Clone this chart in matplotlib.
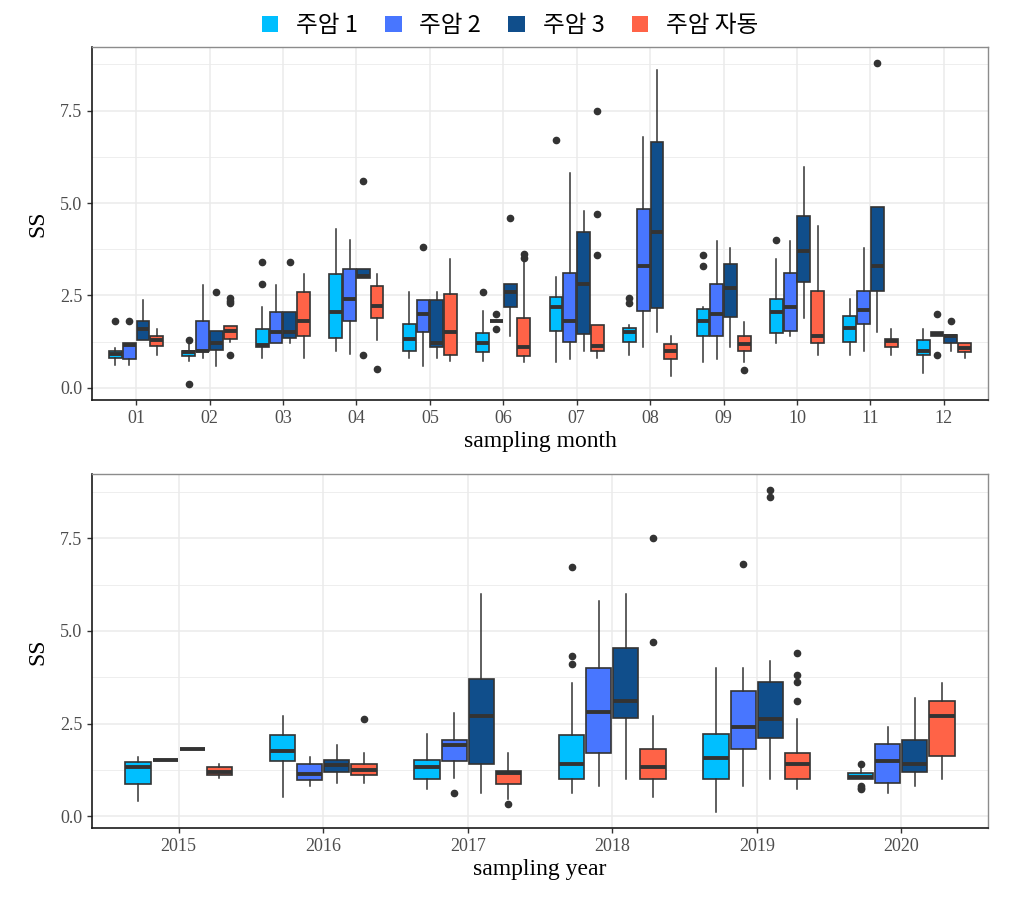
import numpy as np
import matplotlib
matplotlib.use('Agg')
import matplotlib.pyplot as plt
from matplotlib.patches import Patch

plt.rcParams['font.family'] = ['Liberation Serif', 'DejaVu Serif']

series_names = ['주암 1', '주암 2', '주암 3', '주암 자동']
series_colors = ['#00BFFF', '#4876FF', '#104E8B', '#FF6347']

months = ['01', '02', '03', '04', '05', '06', '07', '08', '09', '10', '11', '12']
years = ['2015', '2016', '2017', '2018', '2019', '2020']

# (whisker low, q1, median, q3, whisker high) per month
month_s1 = [(0.62, 0.82, 0.92, 1.01, 1.08), (0.72, 0.85, 0.96, 1.01, 1.20), (0.81, 1.10, 1.15, 1.60, 2.20),
            (1.01, 1.35, 2.05, 3.07, 4.29), (0.81, 1.01, 1.32, 1.74, 2.59), (0.72, 0.96, 1.21, 1.49, 2.09),
            (0.70, 1.55, 2.20, 2.45, 2.99), (0.90, 1.24, 1.51, 1.63, 1.69), (0.70, 1.39, 1.80, 2.13, 2.20),
            (1.21, 1.48, 2.05, 2.40, 3.49), (0.90, 1.24, 1.62, 1.95, 2.40), (0.40, 0.90, 1.01, 1.30, 1.59)]
month_s1_out = [[1.8], [1.3, 0.11], [3.4, 2.8], [], [], [2.6], [6.7], [2.43, 2.3], [3.6, 3.3], [4.0], [], []]

month_s2 = [(0.61, 0.79, 1.17, 1.20, 1.20), (0.81, 0.99, 1.01, 1.80, 2.79), (1.20, 1.20, 1.51, 2.04, 2.79),
            (0.92, 1.80, 2.40, 3.21, 3.99), (0.60, 1.50, 2.00, 2.39, 2.39), (1.80, 1.80, 1.80, 1.80, 1.80),
            (0.79, 1.24, 1.80, 3.10, 5.80), (1.11, 2.07, 3.30, 4.84, 6.79), (0.79, 1.39, 2.00, 2.81, 3.98),
            (1.41, 1.55, 2.20, 3.10, 3.98), (1.01, 1.73, 2.11, 2.61, 3.78), (1.39, 1.39, 1.46, 1.50, 1.50)]
month_s2_out = [[1.8], [], [], [], [3.8], [2.0, 1.6], [], [], [], [], [], [2.0, 0.9]]

month_s3 = [(1.30, 1.30, 1.60, 1.80, 2.38), (0.60, 1.03, 1.20, 1.55, 1.55), (1.21, 1.35, 1.51, 2.04, 2.04),
            (2.98, 2.98, 3.03, 3.21, 3.21), (0.81, 1.10, 1.21, 2.39, 2.59), (1.41, 2.19, 2.60, 2.81, 2.81),
            (1.01, 1.46, 2.80, 4.21, 4.79), (1.50, 2.17, 4.21, 6.65, 8.59), (1.11, 1.92, 2.70, 3.35, 3.78),
            (1.90, 2.86, 3.70, 4.66, 5.98), (1.50, 2.62, 3.30, 4.90, 4.90), (1.01, 1.20, 1.39, 1.42, 1.42)]
month_s3_out = [[], [2.6], [3.4], [5.6, 0.9], [], [4.6], [], [], [], [], [8.8], [1.8]]

month_s4 = [(0.90, 1.12, 1.30, 1.40, 1.60), (1.23, 1.33, 1.55, 1.66, 1.68), (0.81, 1.39, 1.80, 2.59, 3.07),
            (1.30, 1.89, 2.22, 2.75, 3.07), (0.72, 0.90, 1.50, 2.54, 3.48), (0.69, 0.85, 1.11, 1.88, 3.45),
            (0.81, 1.01, 1.12, 1.70, 1.70), (0.31, 0.79, 1.01, 1.19, 1.39), (0.70, 1.01, 1.19, 1.39, 1.78),
            (0.90, 1.20, 1.41, 2.61, 4.39), (0.90, 1.11, 1.26, 1.32, 1.59), (0.81, 0.96, 1.08, 1.20, 1.20)]
month_s4_out = [[], [2.43, 2.36, 2.29, 0.9], [], [0.5], [], [3.62, 3.52], [7.5, 4.7, 3.6], [], [0.49], [], [], []]

year_s1 = [(0.42, 0.87, 1.32, 1.47, 1.60), (0.51, 1.50, 1.76, 2.19, 2.70), (0.72, 1.01, 1.32, 1.51, 2.21),
           (0.61, 1.01, 1.41, 2.19, 3.60), (0.12, 1.01, 1.56, 2.21, 4.01), (1.01, 1.01, 1.06, 1.15, 1.29)]
year_s1_out = [[], [], [], [6.72, 4.32, 4.12], [], [1.41, 0.81, 0.76, 0.72]]

year_s2 = [(1.51, 1.51, 1.51, 1.51, 1.51), (0.81, 0.97, 1.13, 1.41, 1.60), (1.02, 1.50, 1.91, 2.05, 2.79),
           (0.81, 1.71, 2.81, 4.01, 5.81), (0.81, 1.80, 2.41, 3.38, 4.01), (0.61, 0.90, 1.50, 1.96, 2.41)]
year_s2_out = [[], [], [0.61], [], [6.81], []]

year_s3 = [(1.82, 1.82, 1.82, 1.82, 1.82), (0.90, 1.19, 1.37, 1.51, 1.91), (0.61, 1.40, 2.70, 3.71, 6.01),
           (1.01, 2.66, 3.12, 4.55, 6.01), (1.01, 2.12, 2.61, 3.62, 4.20), (0.81, 1.20, 1.41, 2.05, 3.20)]
year_s3_out = [[], [], [], [], [8.80, 8.61], []]

year_s4 = [(1.02, 1.11, 1.20, 1.32, 1.40), (0.90, 1.11, 1.24, 1.40, 1.71), (0.47, 0.86, 1.15, 1.22, 1.71),
           (0.51, 1.01, 1.32, 1.82, 2.70), (0.72, 1.01, 1.41, 1.71, 2.61), (1.01, 1.62, 2.70, 3.11, 3.60)]
year_s4_out = [[], [2.61], [0.32], [7.52, 4.71], [4.41, 3.81, 3.62, 3.11], []]


def to_stats(five, outs):
    return [dict(whislo=a, q1=b, med=c, q3=d, whishi=e, fliers=f)
            for (a, b, c, d, e), f in zip(five, outs)]


def draw_panel(ax, labels, groups, xlabel):
    n = len(labels)
    x = np.arange(n)
    step = 0.1875
    for i, (five, outs) in enumerate(groups):
        pos = x + (i - 1.5) * step
        ax.bxp(to_stats(five, outs), positions=pos, widths=0.175, patch_artist=True,
               showcaps=False, manage_ticks=False,
               boxprops=dict(facecolor=series_colors[i], edgecolor='#333333', linewidth=1.2),
               medianprops=dict(color='#333333', linewidth=2.8, solid_capstyle='butt'),
               whiskerprops=dict(color='#333333', linewidth=1.1),
               flierprops=dict(marker='o', markerfacecolor='#333333', markeredgecolor='#333333',
                               markersize=4.5, linestyle='none'))
    ax.set_xlim(-0.6, n - 0.4)
    ax.set_ylim(-0.33, 9.23)
    ax.set_xticks(x)
    ax.set_xticklabels(labels)
    ax.set_yticks([0, 2.5, 5.0, 7.5])
    ax.set_yticklabels(['0.0', '2.5', '5.0', '7.5'])
    ax.set_yticks([1.25, 3.75, 6.25, 8.75], minor=True)
    ax.grid(True, which='major', color='#EBEBEB', linewidth=1.1, zorder=0)
    ax.grid(True, which='minor', axis='y', color='#EBEBEB', linewidth=0.6, zorder=0)
    ax.set_axisbelow(True)
    ax.tick_params(axis='both', which='major', labelsize=13, labelcolor='#4D4D4D',
                   color='#333333', length=3.5, width=1.0)
    ax.tick_params(axis='both', which='minor', length=0)
    for s in ['left', 'bottom']:
        ax.spines[s].set_color('#1A1A1A')
        ax.spines[s].set_linewidth(1.2)
    for s in ['top', 'right']:
        ax.spines[s].set_color('#8C8C8C')
        ax.spines[s].set_linewidth(1.0)
    ax.set_xlabel(xlabel, fontsize=17, labelpad=3)
    ax.set_ylabel('SS', fontsize=17, labelpad=8)


fig = plt.figure(figsize=(10.2, 9.02), dpi=100)
ax1 = fig.add_axes([0.0902, 0.5565, 0.8784, 0.3917])
ax2 = fig.add_axes([0.0902, 0.0817, 0.8784, 0.3925])

draw_panel(ax1, months, [(month_s1, month_s1_out), (month_s2, month_s2_out),
                         (month_s3, month_s3_out), (month_s4, month_s4_out)], 'sampling month')
draw_panel(ax2, years, [(year_s1, year_s1_out), (year_s2, year_s2_out),
                        (year_s3, year_s3_out), (year_s4, year_s4_out)], 'sampling year')

handles = [Patch(facecolor=c, edgecolor='none') for c in series_colors]
fig.legend(handles, series_names, loc='upper center', bbox_to_anchor=(0.5, 1.008), ncol=4,
           frameon=False, prop=dict(family=['Noto Sans CJK KR', 'DejaVu Sans'], size=17),
           handlelength=0.7, handleheight=0.7, handletextpad=0.75, columnspacing=1.15)

fig.savefig('out.png', dpi=100)
